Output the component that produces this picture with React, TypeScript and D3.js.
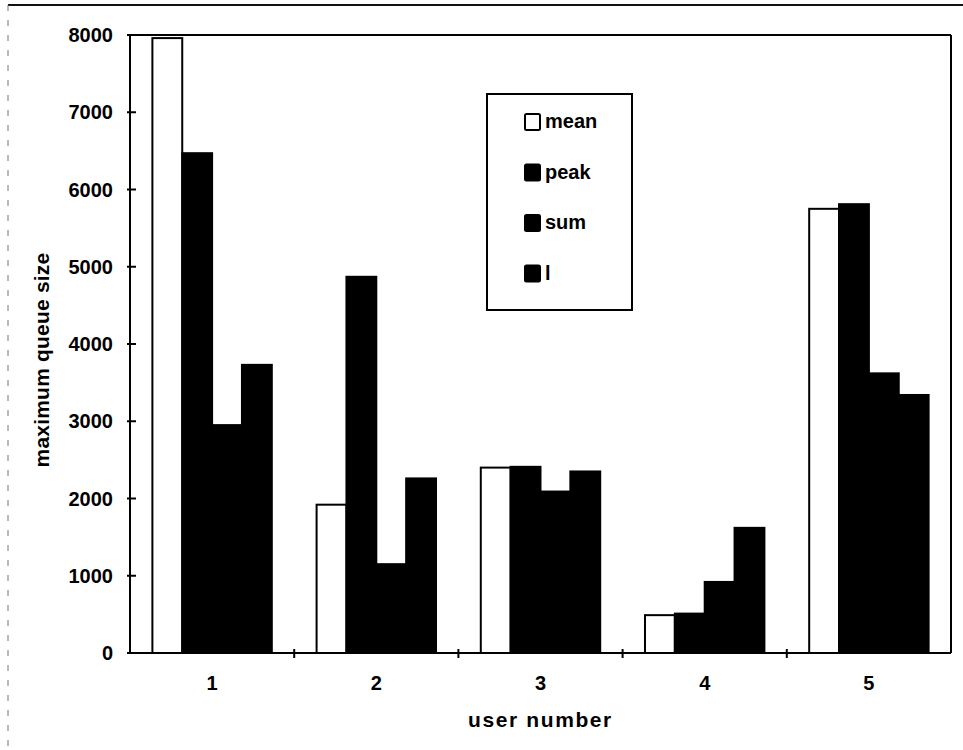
import React from "react";
import * as d3 from "d3";

// Users on the x axis and one value array per measure
const users = ["1", "2", "3", "4", "5"];
const seriesNames = ["mean", "peak", "sum", "l"];
const meanValues = [7960, 1920, 2400, 490, 5750];
const peakValues = [6470, 4870, 2410, 510, 5810];
const sumValues = [2950, 1150, 2090, 920, 3620];
const lValues = [3730, 2260, 2350, 1620, 3340];
const yTicks = [0, 1000, 2000, 3000, 4000, 5000, 6000, 7000, 8000];

const seriesValues = [meanValues, peakValues, sumValues, lValues];
const seriesFill = ["#ffffff", "#000000", "#000000", "#000000"];

const W = 963;
const H = 750;
const plot = { left: 130, right: 951, top: 35, bottom: 653 };
const font = "'Liberation Sans', Arial, sans-serif";

export default function App() {
  const x0 = d3
    .scaleBand<string>()
    .domain(users)
    .range([plot.left, plot.right])
    .paddingInner(0)
    .paddingOuter(0);
  const groupPad = x0.bandwidth() * (1.5 / 5.5) / 2;
  const x1 = d3
    .scaleBand<string>()
    .domain(seriesNames)
    .range([groupPad, x0.bandwidth() - groupPad]);
  const y = d3.scaleLinear().domain([0, 8000]).range([plot.bottom, plot.top]);

  const catTicks = users.slice(1).map((u) => x0(u) as number);

  return (
    <svg
      width={W}
      height={H}
      viewBox={`0 0 ${W} ${H}`}
      style={{ position: "absolute", left: 0, top: 0, background: "#fff" }}
    >
      <rect x={0} y={0} width={W} height={H} fill="#fff" />
      {/* outer chart frame */}
      <line x1={8} x2={W} y1={5} y2={5} stroke="#111" strokeWidth={2} />
      <line x1={8} x2={8} y1={5} y2={H} stroke="#777" strokeWidth={1} strokeDasharray="6 9" />

      {/* bars */}
      {users.map((u, i) => (
        <g key={u} transform={`translate(${x0(u)},0)`}>
          {seriesNames.map((s, j) => {
            const v = seriesValues[j][i];
            return (
              <rect
                key={s}
                x={x1(s) as number}
                y={y(v)}
                width={x1.bandwidth()}
                height={y(0) - y(v)}
                fill={seriesFill[j]}
                stroke="#000"
                strokeWidth={2}
              />
            );
          })}
        </g>
      ))}

      {/* plot area frame */}
      <line x1={plot.left} x2={plot.right} y1={plot.top} y2={plot.top} stroke="#000" strokeWidth={2} />
      <line x1={plot.right} x2={plot.right} y1={plot.top} y2={plot.bottom} stroke="#000" strokeWidth={2} />
      <line x1={plot.left} x2={plot.left} y1={plot.top} y2={plot.bottom} stroke="#000" strokeWidth={2} />
      <line x1={plot.left} x2={plot.right} y1={plot.bottom} y2={plot.bottom} stroke="#000" strokeWidth={2} />

      {/* y axis ticks and labels */}
      {yTicks.map((t) => (
        <g key={t}>
          <line x1={plot.left - 3} x2={plot.left + 6} y1={y(t)} y2={y(t)} stroke="#000" strokeWidth={2} />
          <text
            x={113}
            y={y(t) + 7}
            textAnchor="end"
            fontFamily={font}
            fontSize={20}
            fontWeight="bold"
            fill="#000"
          >
            {t}
          </text>
        </g>
      ))}

      {/* x axis ticks and labels */}
      {catTicks.map((cx, i) => (
        <line key={i} x1={cx} x2={cx} y1={plot.bottom - 4} y2={plot.bottom + 5} stroke="#000" strokeWidth={2} />
      ))}
      {users.map((u) => (
        <text
          key={u}
          x={(x0(u) as number) + x0.bandwidth() / 2}
          y={690}
          textAnchor="middle"
          fontFamily={font}
          fontSize={20}
          fontWeight="bold"
          fill="#000"
        >
          {u}
        </text>
      ))}

      {/* axis titles */}
      <text
        x={(plot.left + plot.right) / 2}
        y={727}
        textAnchor="middle"
        fontFamily={font}
        fontSize={21}
        fontWeight="bold"
        letterSpacing={1.6}
        fill="#000"
      >
        user number
      </text>
      <text
        transform="translate(49,360) rotate(-90)"
        textAnchor="middle"
        fontFamily={font}
        fontSize={21}
        fontWeight="bold"
        letterSpacing={0.2}
        fill="#000"
      >
        maximum queue size
      </text>

      {/* legend */}
      <rect x={487} y={94} width={145} height={216} fill="#fff" stroke="#000" strokeWidth={2} />
      {seriesNames.map((s, j) => {
        const cy = 122 + j * 50.5;
        return (
          <g key={s}>
            <rect
              x={525}
              y={cy - 8}
              width={15}
              height={16}
              fill={seriesFill[j]}
              stroke="#000"
              strokeWidth={2}
              rx={1.5}
            />
            <text x={545} y={cy + 6} fontFamily={font} fontSize={20} fontWeight="bold" fill="#000">
              {s}
            </text>
          </g>
        );
      })}
    </svg>
  );
}
